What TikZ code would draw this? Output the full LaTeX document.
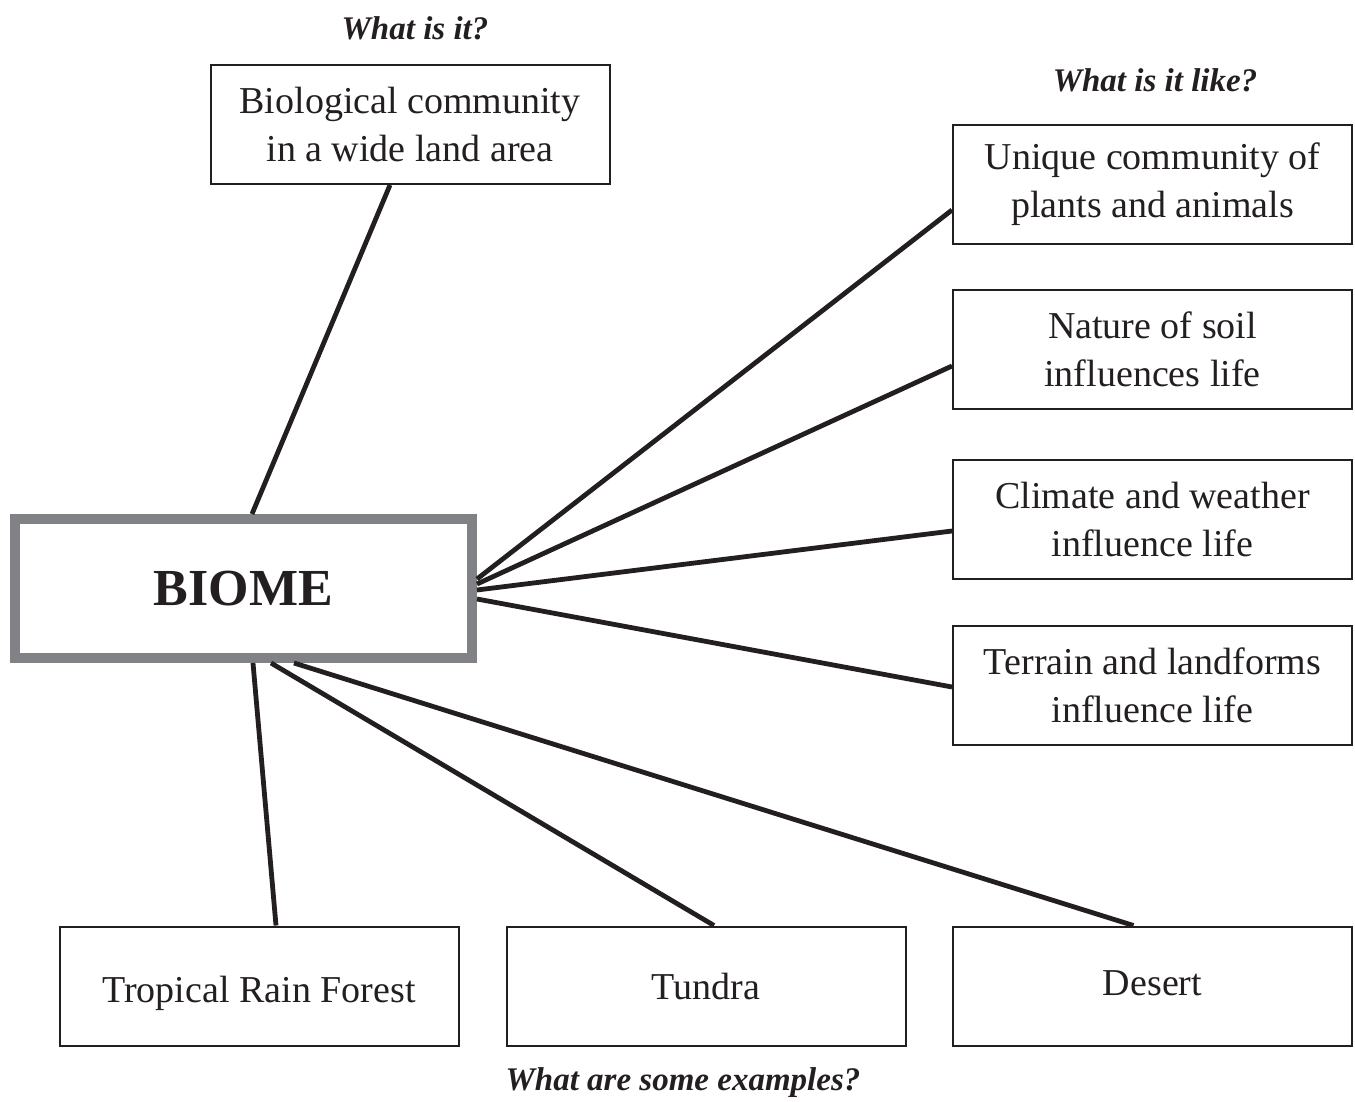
\documentclass[tikz,border=0pt]{standalone}
\usepackage{fontspec}
\setmainfont{Liberation Serif}
\definecolor{biomegray}{HTML}{808285}
\definecolor{ink}{HTML}{231F20}
\begin{document}
\begin{tikzpicture}[x=0.5pt,y=-0.5pt,
  box/.style={draw=ink,line width=1pt,minimum width=199.5pt,minimum height=59.5pt,
    align=center,inner sep=0pt,font=\fontsize{19}{24}\selectfont,text=ink},
  lowbox/.style={box,text height=17pt,text depth=4pt},
  bigbox/.style={draw=biomegray,line width=5pt,fill=white,minimum width=228.5pt,minimum height=69.5pt,
    inner sep=0pt,font=\fontsize{26}{30}\selectfont\bfseries,text=ink},
  question/.style={font=\fontsize{16.5}{20}\selectfont\bfseries\itshape,text=ink,inner sep=0pt},
  link/.style={draw=ink,line width=2.4pt}]
\useasboundingbox (0,0) rectangle (1355,1102);
\node[question] (q1) at (415,28) {What is it?};
\node[question] (q2) at (1155,80) {What is it like?};
\node[question] (q3) at (683,1083) {What are some examples?};
\node[box] (def) at (410,124.5) {Biological community\\in a wide land area};
\node[box] (r1) at (1152.5,184.5) {Unique community of\\plants and animals};
\node[box] (r2) at (1152.5,349.5) {Nature of soil\\influences life};
\node[box] (r3) at (1152.5,519.5) {Climate and weather\\influence life};
\node[box] (r4) at (1152.5,685) {Terrain and landforms\\influence life};
\node[lowbox] (b1) at (259,986) {\raisebox{-1.5pt}{Tropical Rain Forest}};
\node[lowbox] (b2) at (706,986) {Tundra};
\node[lowbox] (b3) at (1152.5,986) {\raisebox{2pt}{Desert}};
\node[bigbox] (biome) at (243.5,588.5) {\raisebox{-2pt}{BIOME}};
\draw[link] ([xshift=121pt]biome.north west) -- ([xshift=-10pt]def.south);
\draw[link] ([yshift=4.75pt]biome.east) -- ([yshift=-12.75pt]r1.west);
\draw[link] ([yshift=2.25pt]biome.east) -- ([yshift=-8.25pt]r2.west);
\draw[link] ([yshift=-0.75pt]biome.east) -- ([yshift=-5.75pt]r3.west);
\draw[link] ([yshift=-5.25pt]biome.east) -- ([yshift=-1pt]r4.west);
\draw[link] ([xshift=121.5pt]biome.south west) -- ([xshift=8.5pt]b1.north);
\draw[link] ([xshift=130.5pt]biome.south west) -- ([xshift=4pt]b2.north);
\draw[link] ([xshift=142pt]biome.south west) -- ([xshift=-9.5pt]b3.north);
\end{tikzpicture}
\end{document}
